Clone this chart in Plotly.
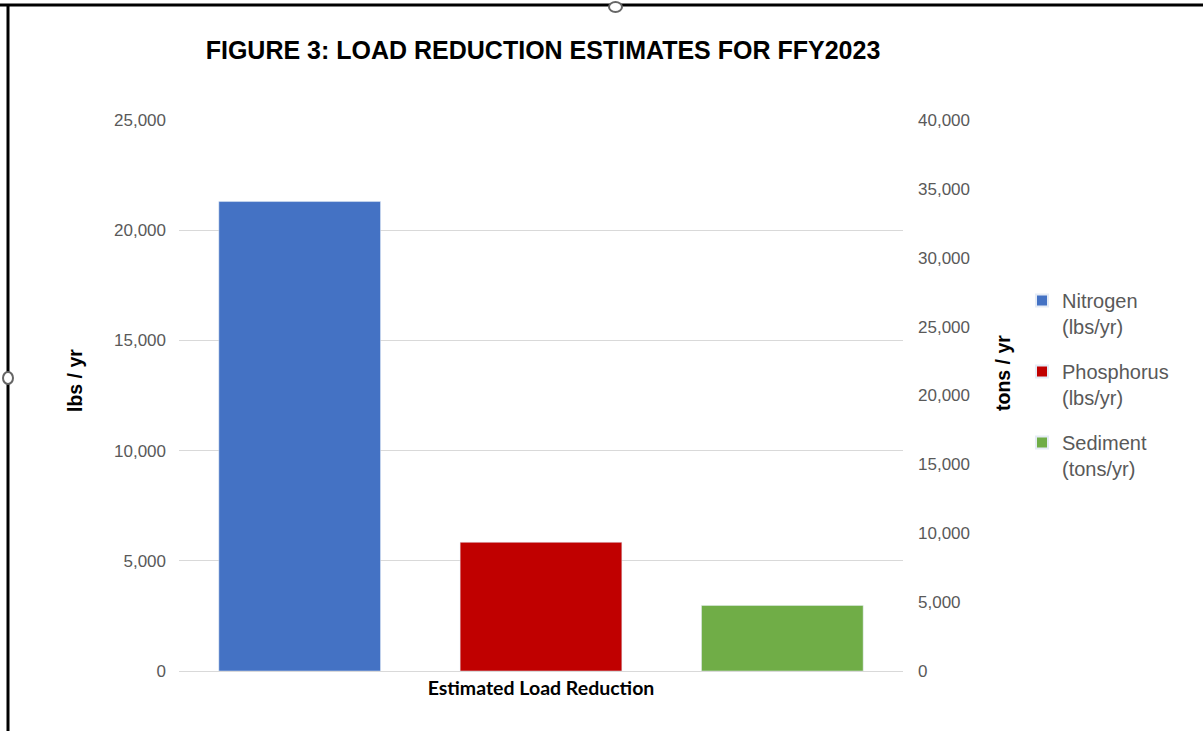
import plotly.graph_objects as go

categories = ["Estimated Load Reduction"]
series_names = ["Nitrogen<br>(lbs/yr)", "Phosphorus<br>(lbs/yr)", "Sediment<br>(tons/yr)"]
nitrogen = [21300]
phosphorus = [5840]
sediment = [4760]
left_ticks = [0, 5000, 10000, 15000, 20000, 25000]
right_ticks = [0, 5000, 10000, 15000, 20000, 25000, 30000, 35000, 40000]

colors = ["#4472C4", "#C00000", "#70AD47"]

W, H = 1203, 731
L, R, T, B = 179, 300, 120, 60
pw = W - L - R
ph = H - T - B


def px(x):
    return (x - L) / pw


def py(y):
    return (H - B - y) / ph


fig = go.Figure()
fig.add_trace(go.Bar(x=categories, y=nitrogen, name=series_names[0], marker_color=colors[0],
                     offsetgroup="1", legendgroup="1", yaxis="y"))
fig.add_trace(go.Bar(x=categories, y=phosphorus, name=series_names[1], marker_color=colors[1],
                     offsetgroup="2", legendgroup="2", yaxis="y"))
fig.add_trace(go.Bar(x=categories, y=sediment, name=series_names[2], marker_color=colors[2],
                     offsetgroup="3", legendgroup="3", yaxis="y2"))

arial = "Liberation Sans, Arial, sans-serif"
tickfont = dict(family=arial, size=17, color="#595959")

fig.update_layout(
    width=W, height=H,
    margin=dict(l=L, r=R, t=T, b=B, autoexpand=False),
    paper_bgcolor="white", plot_bgcolor="white",
    barmode="group", bargap=0.0, bargroupgap=0.33,
    title=dict(text="<b>FIGURE 3: LOAD REDUCTION ESTIMATES FOR FFY2023</b>",
               xref="container", yref="container",
               x=543 / W, xanchor="center", y=1 - 50 / H, yanchor="middle",
               font=dict(family=arial, size=25, color="#000000")),
    xaxis=dict(
        tickmode="array", tickvals=categories,
        ticktext=["<b>Estimated Load Reduction</b>"],
        tickfont=dict(family="Lato, Open Sans, sans-serif", size=19.5, color="#000000"),
        showgrid=False, showline=True, linecolor="#D9D9D9", linewidth=1,
        ticks="", ticklen=0, ticklabelstandoff=0,
    ),
    yaxis=dict(
        range=[0, 25000], tickmode="array", tickvals=left_ticks,
        ticktext=[f"{v:,}" for v in left_ticks],
        tickfont=tickfont, showgrid=True, gridcolor="#D9D9D9", gridwidth=1,
        zeroline=False, showline=False, ticks="", ticklabelstandoff=12,
    ),
    yaxis2=dict(
        range=[0, 40000], overlaying="y", side="right", tickmode="array",
        tickvals=right_ticks, ticktext=[f"{v:,}" for v in right_ticks],
        tickfont=tickfont, showgrid=False, zeroline=False, showline=False,
        ticks="", ticklabelstandoff=14,
    ),
    legend=dict(
        x=px(1022), xanchor="left", y=py(281), yanchor="top",
        font=dict(family=arial, size=20, color="#595959"),
        itemsizing="constant", tracegroupgap=16, bgcolor="rgba(0,0,0,0)",
        itemwidth=30, traceorder="grouped", valign="top",
    ),
    showlegend=True,
)

# Axis titles
fig.add_annotation(text="<b>lbs / yr</b>", xref="paper", yref="paper",
                   x=px(75), y=py(381), textangle=-90, showarrow=False,
                   xanchor="center", yanchor="middle",
                   font=dict(family=arial, size=19.5, color="#000000"))
fig.add_annotation(text="<b>tons / yr</b>", xref="paper", yref="paper",
                   x=px(1003), y=py(373), textangle=-90, showarrow=False,
                   xanchor="center", yanchor="middle",
                   font=dict(family=arial, size=19.5, color="#000000"))

# Document frame lines and handles
fig.add_shape(type="line", xref="paper", yref="paper",
              x0=px(0), x1=px(W), y0=py(5), y1=py(5),
              line=dict(color="#000000", width=3))
fig.add_shape(type="line", xref="paper", yref="paper",
              x0=px(8), x1=px(8), y0=py(5), y1=py(H),
              line=dict(color="#000000", width=3))
fig.add_shape(type="circle", xref="paper", yref="paper",
              x0=px(609), x1=px(622), y0=py(2), y1=py(12),
              line=dict(color="#666666", width=2), fillcolor="white", layer="above")
fig.add_shape(type="circle", xref="paper", yref="paper",
              x0=px(3), x1=px(13), y0=py(372), y1=py(384),
              line=dict(color="#666666", width=2), fillcolor="white", layer="above")

fig.write_html("out.html")
